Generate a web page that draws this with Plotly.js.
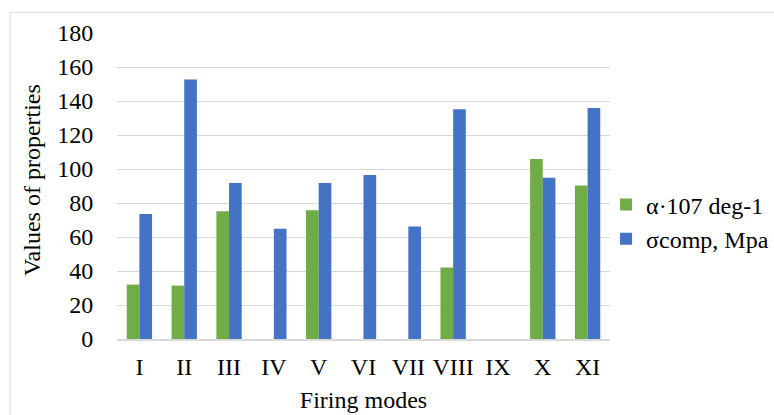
<!DOCTYPE html>
<html>
<head>
<meta charset="utf-8">
<script src="https://cdn.plot.ly/plotly-3.0.1.min.js"></script>
<style>html,body{margin:0;padding:0;background:#fff;}#chart{width:774px;height:415px;}</style>
</head>
<body>
<div id="chart"></div>
<script>
const categories = ["I", "II", "III", "IV", "V", "VI", "VII", "VIII", "IX", "X", "XI"];
const alphaValues = [32, 31.4, 75.2, null, 75.8, null, null, 42, null, 105.9, 90.3];
const sigmaValues = [73.5, 152.7, 91.8, 64.8, 91.8, 96.4, 66.2, 135.1, null, 94.8, 135.9];
const seriesNames = ["α·107 deg-1", "σcomp, Mpa"];
const yTicks = [0, 20, 40, 60, 80, 100, 120, 140, 160, 180];

const FONT = 'Liberation Serif, DejaVu Serif, serif';
const f = (size) => ({family: FONT, size: size, color: '#000'});

const traces = [
  {type: 'bar', x: categories, y: alphaValues, name: seriesNames[0], marker: {color: '#70ad47'}, legendgroup: 'a'},
  {type: 'bar', x: categories, y: sigmaValues, name: seriesNames[1], marker: {color: '#4472c4'}, legendgroup: 'b'}
];

const layout = {
  width: 774, height: 415,
  margin: {l: 117, r: 164, t: 33, b: 75.5, autoexpand: false},
  paper_bgcolor: '#fff', plot_bgcolor: '#fff',
  font: f(24),
  barmode: 'group', bargap: 0.435, bargroupgap: 0,
  xaxis: {
    type: 'category', showgrid: false, zeroline: false,
    showline: true, linecolor: '#d9d9d9', linewidth: 1.5,
    ticks: 'outside', ticklen: 6, tickcolor: 'rgba(0,0,0,0)',
    tickfont: f(24),
    title: {text: 'Firing modes', font: f(24), standoff: 12}
  },
  yaxis: {
    range: [0, 180], tickvals: yTicks, ticktext: yTicks.map(String),
    showgrid: true, gridcolor: '#d9d9d9', gridwidth: 1, zeroline: false,
    showline: false, ticks: 'outside', ticklen: 18, tickcolor: 'rgba(0,0,0,0)',
    tickfont: f(24)
  },
  showlegend: true,
  legend: {
    x: 0.992, xanchor: 'left', y: 0.512, yanchor: 'top',
    font: f(24),
    bgcolor: 'rgba(0,0,0,0)', tracegroupgap: 4, traceorder: 'normal'
  },
  annotations: [{
    xref: 'paper', yref: 'paper', x: -0.172, y: 0.52, xanchor: 'center', yanchor: 'middle',
    text: 'Values of properties', textangle: -90, showarrow: false,
    font: f(24)
  }],
  shapes: [{
    type: 'rect', xref: 'paper', yref: 'paper',
    x0: -0.217, x1: 2, y0: -1, y1: 1.0678,
    line: {color: '#d9d9d9', width: 1}, fillcolor: 'rgba(0,0,0,0)', layer: 'below'
  }]
};

Plotly.newPlot('chart', traces, layout, {displayModeBar: false, staticPlot: true});
</script>
</body>
</html>
